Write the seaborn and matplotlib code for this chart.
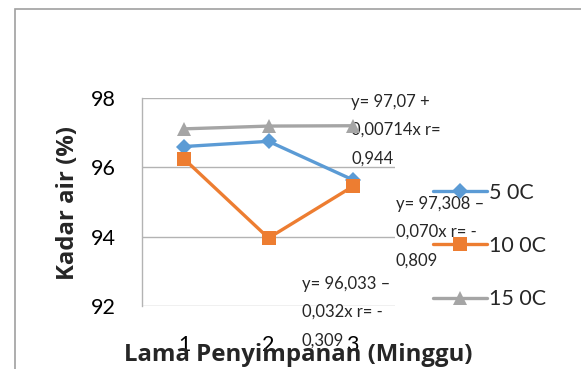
import matplotlib
matplotlib.use("Agg")
import matplotlib.pyplot as plt
import matplotlib.patches as mpatches
import seaborn as sns
import pandas as pd

# Storage time (weeks) and moisture content (%) for three storage temperatures
weeks = [1, 2, 3]
series_names = ["5 0C", "10 0C", "15 0C"]
moisture_5c = [96.60, 96.75, 95.64]
moisture_10c = [96.24, 93.96, 95.45]
moisture_15c = [97.11, 97.19, 97.20]
y_ticks = [92, 94, 96, 98]
equations = [
    "y= 97,07 +\n0,00714x r=\n0,944",
    "y= 97,308 –\n0,070x r= -\n0,809",
    "y= 96,033 –\n0,032x r= -\n0,309",
]

colors = {"5 0C": "#5B9BD5", "10 0C": "#ED7D31", "15 0C": "#A5A5A5"}
markers = {"5 0C": "D", "10 0C": "s", "15 0C": "^"}
marker_sizes = {"5 0C": 8, "10 0C": 10, "15 0C": 10}

df = pd.DataFrame({
    "Minggu": weeks * 3,
    "Kadar": moisture_5c + moisture_10c + moisture_15c,
    "Suhu": [s for s in series_names for _ in weeks],
})

sns.set_theme(style="white")
plt.rcParams["font.family"] = ["Lato", "DejaVu Sans"]

W, H = 581, 369
fig = plt.figure(figsize=(W / 100, H / 100), dpi=100)
ax_left, ax_right, ax_top, ax_bottom = 142, 395, 98, 306
ax = fig.add_axes([ax_left / W, 1 - ax_bottom / H,
                   (ax_right - ax_left) / W, (ax_bottom - ax_top) / H])

sns.lineplot(data=df, x="Minggu", y="Kadar", hue="Suhu", style="Suhu",
             palette=colors, markers=markers, dashes=False,
             hue_order=series_names, style_order=series_names,
             linewidth=2.4, markeredgewidth=0, ax=ax, zorder=5)

for line, name in zip(ax.lines, series_names):
    line.set_markersize(marker_sizes[name])

ax.set_xlim(0.5, 3.5)
ax.set_ylim(92, 98)
ax.set_xticks(weeks)
ax.set_xticklabels([str(w) for w in weeks])
ax.set_yticks(y_ticks)
ax.yaxis.grid(True, color="#B3B3B3", linewidth=1.0)
ax.xaxis.grid(False)
for side in ["top", "right", "bottom"]:
    ax.spines[side].set_visible(False)
ax.spines["left"].set_color("#B3B3B3")
ax.spines["left"].set_linewidth(1.0)
ax.tick_params(axis="both", length=0, labelsize=15.5, colors="#000000")
ax.tick_params(axis="y", pad=19)
ax.tick_params(axis="x", pad=21)

label_font = dict(family=["Open Sans", "DejaVu Sans"], fontsize=17.3,
                  fontweight="bold")
ax.set_xlabel("Lama Penyimpanan (Minggu)", **label_font)
ax.xaxis.label.set_va("baseline")
ax.xaxis.set_label_coords((298.5 - ax_left) / (ax_right - ax_left),
                          -(361 - ax_bottom) / (ax_bottom - ax_top))
ax.set_ylabel("Kadar air (%)", **label_font)
ax.yaxis.set_label_coords((80 - ax_left) / (ax_right - ax_left),
                          (ax_bottom - 202.5) / (ax_bottom - ax_top))

# Regression equation labels
eq_pos = [(351, 130, True), (396, 232, False), (302, 312, False)]
for text, (px, py, boxed) in zip(equations, eq_pos):
    kw = {}
    if boxed:
        kw["bbox"] = dict(facecolor="white", edgecolor="none", pad=0)
    ax.text((px - ax_left) / (ax_right - ax_left),
            (ax_bottom - py) / (ax_bottom - ax_top),
            text, transform=ax.transAxes, ha="left", va="center",
            fontsize=12, linespacing=1.95, clip_on=False, zorder=3, **kw)

handles, labels = ax.get_legend_handles_labels()
for h, name in zip(handles, labels):
    h.set_markersize(marker_sizes[name])
ax.legend(handles, labels, loc="center left",
          bbox_to_anchor=(433 / W, 1 - 246 / H), bbox_transform=fig.transFigure,
          frameon=False, fontsize=15.5, handlelength=2.5, handletextpad=0.1,
          labelspacing=1.55, borderpad=0, borderaxespad=0)

# Chart area border
fig.patches.append(mpatches.Rectangle((15 / W, -0.2), 2, 1 - 9 / H + 0.2,
                                      transform=fig.transFigure, fill=False,
                                      edgecolor="#A0A0A0", linewidth=1.2))

fig.savefig("out.png", dpi=100)
